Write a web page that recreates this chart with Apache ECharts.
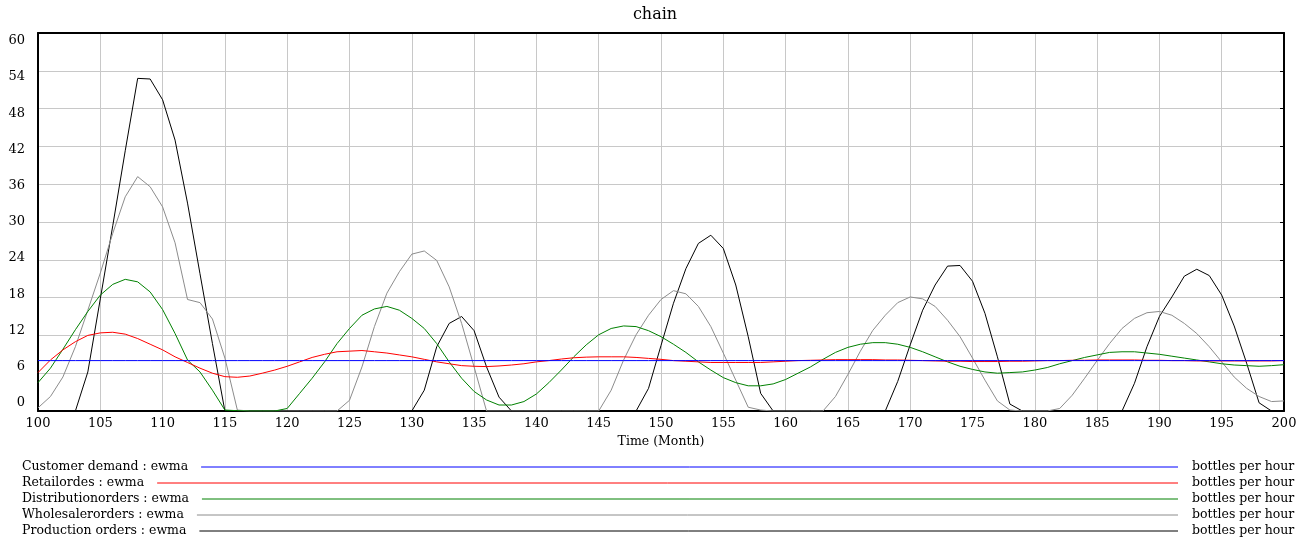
<!DOCTYPE html>
<html>
<head>
<meta charset="utf-8">
<title>chain</title>
<script src="https://cdn.jsdelivr.net/npm/echarts/dist/echarts.min.js"></script>
<style>
  html, body { margin: 0; padding: 0; background: #fff; }
  #main { width: 1310px; height: 542px; }
</style>
</head>
<body>
<div id="main"></div>
<script>
// time steps (months 100..200)
const months = [];
for (let m = 100; m <= 200; m++) months.push(m);

const customerDemand = [
  8, 8, 8, 8, 8, 8, 8, 8, 8, 8,
  8, 8, 8, 8, 8, 8, 8, 8, 8, 8,
  8, 8, 8, 8, 8, 8, 8, 8, 8, 8,
  8, 8, 8, 8, 8, 8, 8, 8, 8, 8,
  8, 8, 8, 8, 8, 8, 8, 8, 8, 8,
  8, 8, 8, 8, 8, 8, 8, 8, 8, 8,
  8, 8, 8, 8, 8, 8, 8, 8, 8, 8,
  8, 8, 8, 8, 8, 8, 8, 8, 8, 8,
  8, 8, 8, 8, 8, 8, 8, 8, 8, 8,
  8, 8, 8, 8, 8, 8, 8, 8, 8, 8,
  8
];
const retailOrders = [
  6.1, 8.1, 9.7, 11.0, 12.0, 12.4, 12.5, 12.2, 11.5, 10.6,
  9.7, 8.6, 7.7, 6.8, 6.0, 5.45, 5.35, 5.55, 6.0, 6.5,
  7.1, 7.8, 8.5, 9.0, 9.4, 9.5, 9.6, 9.4, 9.2, 8.9,
  8.6, 8.2, 7.8, 7.5, 7.2, 7.1, 7.05, 7.15, 7.3, 7.5,
  7.8, 8.0, 8.25, 8.45, 8.55, 8.6, 8.6, 8.6, 8.5, 8.35,
  8.2, 8.0, 7.9, 7.8, 7.7, 7.7, 7.7, 7.7, 7.7, 7.8,
  7.9, 8.0, 8.05, 8.1, 8.15, 8.15, 8.15, 8.15, 8.1, 8.1,
  8.05, 8.0, 7.95, 7.9, 7.9, 7.85, 7.85, 7.85, 7.9, 7.9,
  7.95, 8.0, 8.0, 8.05, 8.05, 8.1, 8.1, 8.1, 8.1, 8.05,
  8.05, 8.0, 8.0, 7.95, 7.95, 7.95, 7.95, 7.95, 7.95, 7.95,
  8.0
];
const distributionOrders = [
  4.5, 6.8, 9.8, 12.9, 15.8, 18.4, 20.1, 20.9, 20.5, 18.9,
  16.1, 12.3, 8.1, 6.2, 3.3, 0.15, 0.05, 0, 0, 0,
  0.4, 2.8, 5.2, 7.8, 10.7, 13.1, 15.2, 16.2, 16.6, 16.0,
  14.7, 13.1, 10.7, 7.8, 5.2, 3.1, 1.75, 0.95, 0.95, 1.5,
  2.7, 4.5, 6.5, 8.6, 10.5, 12.1, 13.1, 13.5, 13.4, 12.75,
  11.8, 10.6, 9.3, 7.8, 6.5, 5.3, 4.5, 4.0, 4.0, 4.3,
  5.0, 6.0, 7.0, 8.2, 9.3, 10.1, 10.6, 10.85, 10.85, 10.6,
  10.1, 9.4, 8.6, 7.8, 7.1, 6.6, 6.2, 6.0, 6.1, 6.2,
  6.5, 6.9, 7.5, 8.0, 8.5, 8.9, 9.3, 9.4, 9.4, 9.2,
  9.0, 8.7, 8.4, 8.1, 7.8, 7.5, 7.3, 7.2, 7.1, 7.2,
  7.35
];
const wholesaleOrders = [
  0.5, 2.3, 5.4, 10.2, 16.0, 21.9, 28.2, 34.0, 37.2, 35.6,
  32.4, 26.7, 17.7, 17.2, 14.6, 8.4, 0.15, 0, 0, 0,
  0, 0, 0, 0, 0, 1.7, 7.0, 13.4, 18.7, 22.1,
  24.9, 25.4, 23.9, 19.7, 13.9, 7.0, 0, 0, 0, 0,
  0, 0, 0, 0, 0, 0, 3.3, 8.1, 12.1, 15.2,
  17.7, 19.1, 18.6, 16.6, 13.4, 9.2, 4.9, 0.6, 0.15, 0,
  0, 0, 0, 0, 2.3, 5.8, 9.5, 12.8, 15.2, 17.2,
  18.1, 17.8, 16.6, 14.4, 11.8, 8.4, 4.9, 1.6, 0.15, 0,
  0, 0, 0.4, 2.5, 5.2, 8.0, 10.7, 13.1, 14.7, 15.6,
  15.8, 15.2, 13.9, 12.3, 10.2, 7.8, 5.4, 3.6, 2.3, 1.5,
  1.6
];
const productionOrders = [
  0, 0, 0, 0, 6.2, 17.8, 29.4, 41.3, 52.8, 52.7,
  49.4, 43.0, 33.0, 21.8, 10.7, 0, 0, 0, 0, 0,
  0, 0, 0, 0, 0, 0, 0, 0, 0, 0,
  0, 3.3, 10.2, 13.9, 15.0, 12.75, 7.0, 2.2, 0, 0,
  0, 0, 0, 0, 0, 0, 0, 0, 0, 3.6,
  10.4, 17.1, 22.6, 26.6, 27.9, 25.8, 20.0, 11.8, 2.8, 0,
  0, 0, 0, 0, 0, 0, 0, 0, 0, 4.7,
  10.5, 16.0, 20.0, 23.0, 23.1, 20.6, 15.5, 8.6, 1.1, 0,
  0, 0, 0, 0, 0, 0, 0, 0, 4.4, 10.2,
  15.0, 18.1, 21.4, 22.5, 21.5, 18.4, 13.5, 7.6, 1.3, 0,
  0
];

const seriesNames = [
  'Customer demand : ewma',
  'Retailordes : ewma',
  'Distributionorders : ewma',
  'Wholesalerorders : ewma',
  'Production orders : ewma'
];
const seriesValues = [customerDemand, retailOrders, distributionOrders, wholesaleOrders, productionOrders];
const seriesColors = ['#0000ff', '#ff0000', '#008000', '#8c8c8c', '#000000'];
const unitLabel = 'bottles per hour';

const FONT = '"DejaVu Serif", "Liberation Serif", serif';
const chart = echarts.init(document.getElementById('main'), null, { renderer: 'canvas' });

// measure legend texts so the lines start just after them
const ctx = document.createElement('canvas').getContext('2d');
ctx.font = '12.5px ' + FONT;

const graphics = [{
  type: 'text',
  left: 'center',
  style: { text: 'chain', x: 655, y: 15, fontFamily: FONT, fontSize: 16, fill: '#000', align: 'center', verticalAlign: 'middle' }
}];
// legend rows
seriesNames.forEach(function (name, i) {
  const y = Math.round(467 + i * 15.9);
  const w = ctx.measureText(name).width;
  graphics.push({
    type: 'text',
    style: { text: name, x: 22, y: y, fontFamily: FONT, fontSize: 12.5, fill: '#000', verticalAlign: 'middle' }
  });
  graphics.push({
    type: 'line',
    shape: { x1: 22 + w + 13, y1: y, x2: 1178, y2: y },
    style: { stroke: seriesColors[i], lineWidth: 1 }
  });
  graphics.push({
    type: 'text',
    style: { text: unitLabel, x: 1192, y: y, fontFamily: FONT, fontSize: 12.5, fill: '#000', verticalAlign: 'middle' }
  });
});
// title text element should not use left:center with explicit x
graphics[0] = {
  type: 'text',
  x: 655, y: 15,
  style: { text: 'chain', fontFamily: FONT, fontSize: 16, fill: '#000', align: 'center', verticalAlign: 'middle' }
};

const gridColor = '#c8c8c8';
const series = seriesNames.map(function (name, i) {
  return {
    name: name,
    type: 'line',
    xAxisIndex: 0,
    yAxisIndex: 0,
    symbol: 'none',
    showSymbol: false,
    lineStyle: { color: seriesColors[i], width: 1 },
    itemStyle: { color: seriesColors[i] },
    z: 2 + (4 - i),
    data: months.map(function (m, k) { return [m, seriesValues[i][k]]; })
  };
});
// blue on top
series[0].z = 10;

chart.setOption({
  animation: false,
  backgroundColor: '#fff',
  graphic: graphics,
  grid: [
    { left: 38, right: 26, top: 33, height: 378 },
    // label-only grid (tick labels sit slightly inside the frame in the original)
    { left: 38, right: 26, top: 40.7, height: 362.3 }
  ],
  xAxis: [
    {
      gridIndex: 0, type: 'value', min: 100, max: 200, interval: 5, position: 'bottom',
      axisLine: { show: true, onZero: false, lineStyle: { color: '#000', width: 2 } },
      axisTick: { show: false },
      axisLabel: { margin: 6, fontFamily: FONT, fontSize: 13, color: '#000' },
      splitLine: { show: true, lineStyle: { color: gridColor, width: 1 } },
      name: 'Time (Month)', nameLocation: 'middle', nameGap: 21,
      nameTextStyle: { fontFamily: FONT, fontSize: 12.5, color: '#000' }
    },
    {
      gridIndex: 0, type: 'value', min: 100, max: 200, interval: 5, position: 'top',
      axisLine: { show: true, onZero: false, lineStyle: { color: '#000', width: 2 } },
      axisTick: { show: false }, axisLabel: { show: false }, splitLine: { show: false }
    },
    { gridIndex: 1, type: 'value', min: 100, max: 200, show: false }
  ],
  yAxis: [
    {
      gridIndex: 0, type: 'value', min: 0, max: 60, interval: 6, position: 'left',
      axisLine: { show: true, onZero: false, lineStyle: { color: '#000', width: 2 } },
      axisTick: { show: false }, axisLabel: { show: false },
      splitLine: { show: true, lineStyle: { color: gridColor, width: 1 } }
    },
    {
      gridIndex: 0, type: 'value', min: 0, max: 60, interval: 6, position: 'right',
      axisLine: { show: true, onZero: false, lineStyle: { color: '#000', width: 2 } },
      axisTick: { show: true, inside: true, length: 4, lineStyle: { color: '#000' } },
      axisLabel: { show: false }, splitLine: { show: false }
    },
    {
      gridIndex: 1, type: 'value', min: 0, max: 60, interval: 6, position: 'left',
      axisLine: { show: false }, axisTick: { show: false }, splitLine: { show: false },
      axisLabel: { margin: 13, fontFamily: FONT, fontSize: 13, color: '#000' }
    }
  ],
  series: series
});
</script>
</body>
</html>
